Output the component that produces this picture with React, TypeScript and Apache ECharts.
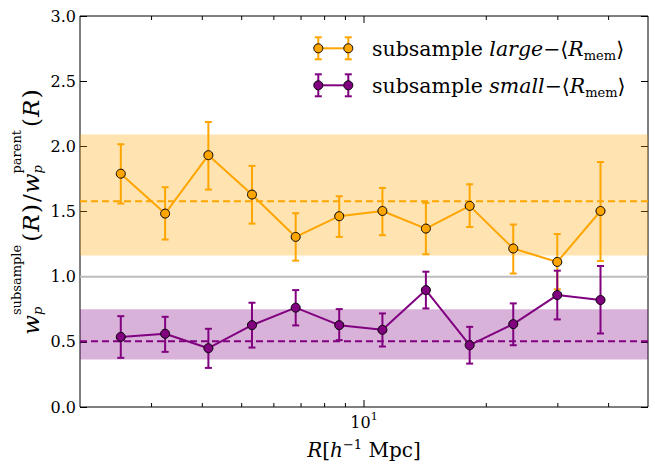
import React, { useEffect, useRef } from 'react';
import * as echarts from 'echarts';

const FONT = '"DejaVu Serif", "DejaVu Sans", serif';

// Data
const radiusBins = [2.52, 3.24, 4.14, 5.3, 6.79, 8.69, 11.1, 14.2, 18.2, 23.3, 29.9, 38.2];

const largeRatio = [1.79, 1.484, 1.932, 1.63, 1.305, 1.464, 1.504, 1.369, 1.543, 1.216, 1.113, 1.504];
const largeHigh = [2.016, 1.686, 2.187, 1.85, 1.487, 1.617, 1.681, 1.566, 1.709, 1.4, 1.327, 1.88];
const largeLow = [1.561, 1.285, 1.668, 1.407, 1.123, 1.305, 1.318, 1.172, 1.381, 1.024, 0.903, 1.12];

const smallRatio = [0.538, 0.562, 0.451, 0.628, 0.762, 0.628, 0.592, 0.897, 0.474, 0.636, 0.859, 0.821];
const smallHigh = [0.697, 0.692, 0.6, 0.8, 0.897, 0.751, 0.718, 1.038, 0.615, 0.795, 1.046, 1.082];
const smallLow = [0.377, 0.423, 0.3, 0.456, 0.626, 0.513, 0.464, 0.756, 0.333, 0.474, 0.672, 0.564];

const largeMean = [1.579];
const largeBand = [1.163, 2.09];
const smallMean = [0.504];
const smallBand = [0.365, 0.75];
const referenceLine = [1.0];

const xRange = [2, 50];
const yRange = [0, 3];
const yStep = 0.5;
const xMajorTicks = [10];
const xMinorTicks = [3, 4, 5, 6, 7, 8, 9, 20, 30, 40];

const largeColor = '#FFA500';
const smallColor = '#800080';
const largeBandColor = 'rgba(255,165,0,0.3)';
const smallBandColor = 'rgba(128,0,128,0.3)';

function errorBarSeries(name: string, lo: number[], hi: number[], color: string, z: number) {
  return {
    type: 'custom',
    name,
    z,
    silent: true,
    xAxisIndex: 0,
    yAxisIndex: 0,
    data: radiusBins.map((r, i) => [r, lo[i], hi[i]]),
    encode: { x: 0, y: [1, 2] },
    renderItem: (params: any, api: any) => {
      const x = api.value(0);
      const top = api.coord([x, api.value(2)]);
      const bot = api.coord([x, api.value(1)]);
      const c = 3.5;
      const style = { stroke: color, lineWidth: 2 };
      return {
        type: 'group',
        children: [
          { type: 'line', shape: { x1: top[0], y1: top[1], x2: bot[0], y2: bot[1] }, style },
          { type: 'line', shape: { x1: top[0] - c, y1: top[1], x2: top[0] + c, y2: top[1] }, style },
          { type: 'line', shape: { x1: bot[0] - c, y1: bot[1], x2: bot[0] + c, y2: bot[1] }, style },
        ],
      };
    },
  };
}

function lineSeries(name: string, vals: number[], color: string, z: number) {
  return {
    type: 'line',
    name,
    z,
    silent: true,
    xAxisIndex: 0,
    yAxisIndex: 0,
    data: radiusBins.map((r, i) => [r, vals[i]]),
    symbol: 'circle',
    symbolSize: 9,
    showSymbol: true,
    lineStyle: { color, width: 2 },
    itemStyle: { color, borderColor: '#000', borderWidth: 1 },
  };
}

function measureFactory() {
  const ctx = document.createElement('canvas').getContext('2d') as CanvasRenderingContext2D;
  return (text: string, font: string) => {
    ctx.font = font;
    return ctx.measureText(text).width;
  };
}

function buildYLabel() {
  const measure = measureFactory();
  const MAIN = 23;
  const SCR = 13;
  const fMain = `${MAIN}px ${FONT}`;
  const fMainI = `italic ${MAIN}px ${FONT}`;
  const fScr = `${SCR}px ${FONT}`;
  const fScrI = `italic ${SCR}px ${FONT}`;
  const mainDy = -0.3 * MAIN;
  const supDy = -18 - 0.3 * SCR;
  const subDy = 3 - 0.3 * SCR;
  type Piece = { text: string; font: string; u: number; dy: number };
  const pieces: Piece[] = [];
  let u = 0;
  const addMain = (t: string, f: string, gap = 1) => {
    pieces.push({ text: t, font: f, u, dy: mainDy });
    u += measure(t, f) + gap;
  };
  const addStack = (sup: string, sub: string) => {
    pieces.push({ text: sup, font: fScr, u, dy: supDy });
    pieces.push({ text: sub, font: fScrI, u, dy: subDy });
    u += Math.max(measure(sup, fScr), measure(sub, fScrI)) + 3;
  };
  addMain('w', fMainI, 0);
  addStack('subsample', 'p');
  addMain('(', fMain);
  addMain('R', fMainI, 1.5);
  addMain(')', fMain, 2);
  addMain('/', fMain, 1);
  addMain('w', fMainI, 0);
  addStack('parent', 'p');
  addMain('(', fMain);
  addMain('R', fMainI, 1.5);
  addMain(')', fMain, 0);
  const total = u;
  return {
    type: 'group',
    x: 38,
    y: 212,
    rotation: Math.PI / 2,
    silent: true,
    children: pieces.map((p) => ({
      type: 'text',
      x: p.u - total / 2,
      y: p.dy,
      style: {
        text: p.text,
        font: p.font,
        fill: '#000',
        align: 'left',
        verticalAlign: 'middle',
        textAlign: 'left',
        textVerticalAlign: 'middle',
      },
    })),
  };
}

function legendRow(y: number, color: string, word: string) {
  const cap = 3.5;
  const half = 11;
  const xs = [318.3, 348.3];
  const st = { stroke: color, lineWidth: 2 };
  const children: any[] = [
    { type: 'line', shape: { x1: xs[0], y1: y, x2: xs[1], y2: y }, style: st },
  ];
  xs.forEach((x) => {
    children.push({ type: 'line', shape: { x1: x, y1: y - half, x2: x, y2: y + half }, style: st });
    children.push({ type: 'line', shape: { x1: x - cap, y1: y - half, x2: x + cap, y2: y - half }, style: st });
    children.push({ type: 'line', shape: { x1: x - cap, y1: y + half, x2: x + cap, y2: y + half }, style: st });
  });
  xs.forEach((x) => {
    children.push({ type: 'circle', shape: { cx: x, cy: y, r: 4.5 }, style: { fill: color, stroke: '#000', lineWidth: 1 } });
  });
  children.push({
    type: 'text',
    x: 372,
    y: y + 1,
    style: {
      text: `{n|subsample }{i|${word}}{n|−⟨}{i|R}{s|mem}{n|⟩}`,
      verticalAlign: 'middle',
      textVerticalAlign: 'middle',
      align: 'left',
      textAlign: 'left',
      fill: '#000',
      rich: {
        n: { fontFamily: FONT, fontSize: 20.5, lineHeight: 26, color: '#000' },
        i: { fontFamily: FONT, fontSize: 20.5, fontStyle: 'italic', lineHeight: 26, color: '#000' },
        s: { fontFamily: FONT, fontSize: 13, lineHeight: 15, verticalAlign: 'bottom', color: '#000' },
      },
    },
  });
  return { type: 'group', silent: true, children };
}

export default function App() {
  const ref = useRef<HTMLDivElement>(null);
  useEffect(() => {
    if (!ref.current) return;
    const chart = echarts.init(ref.current, undefined, { renderer: 'svg' });
    const option: any = {
      animation: false,
      backgroundColor: '#fff',
      grid: { left: 80, right: 7, top: 16, bottom: 57, show: true, borderColor: '#000', borderWidth: 1, backgroundColor: 'transparent' },
      xAxis: [
        {
          type: 'log',
          logBase: 10,
          min: xRange[0],
          max: xRange[1],
          axisLine: { show: false },
          axisTick: { show: false },
          splitLine: { show: false },
          minorTick: { show: false },
          axisLabel: {
            margin: 4,
            showMinLabel: false,
            showMaxLabel: false,
            formatter: (v: number) => (Math.abs(v - 10) < 1e-6 ? '{b|10}{s|1}' : ''),
            rich: {
              b: { fontFamily: FONT, fontSize: 16, lineHeight: 22, color: '#000' },
              s: { fontFamily: FONT, fontSize: 11, lineHeight: 10, verticalAlign: 'top', color: '#000' },
            },
          },
        },
      ],
      yAxis: [
        {
          type: 'value',
          min: yRange[0],
          max: yRange[1],
          interval: yStep,
          axisLine: { show: false },
          splitLine: { show: false },
          axisTick: { show: true, inside: true, length: 7, lineStyle: { color: '#000', width: 1 } },
          axisLabel: {
            margin: 4,
            fontFamily: FONT,
            fontSize: 16,
            color: '#000',
            formatter: (v: number) => v.toFixed(1),
          },
        },
        {
          type: 'value',
          position: 'right',
          min: yRange[0],
          max: yRange[1],
          interval: yStep,
          axisLine: { show: false },
          splitLine: { show: false },
          axisTick: { show: true, inside: true, length: 7, lineStyle: { color: '#000', width: 1 } },
          axisLabel: { show: false },
        },
      ],
      series: [
        {
          type: 'custom',
          z: 1,
          silent: true,
          data: [
            [10, largeBand[0], largeBand[1], 0],
            [10, smallBand[0], smallBand[1], 1],
          ],
          encode: { x: 0, y: [1, 2] },
          renderItem: (params: any, api: any) => {
            const cs = params.coordSys;
            const yTop = api.coord([10, api.value(2)])[1];
            const yBot = api.coord([10, api.value(1)])[1];
            return {
              type: 'rect',
              shape: { x: cs.x, y: yTop, width: cs.width, height: yBot - yTop },
              style: { fill: api.value(3) === 0 ? largeBandColor : smallBandColor },
            };
          },
        },
        {
          type: 'custom',
          z: 2,
          silent: true,
          data: [
            [10, referenceLine[0], 2],
            [10, largeMean[0], 0],
            [10, smallMean[0], 1],
          ],
          encode: { x: 0, y: 1 },
          renderItem: (params: any, api: any) => {
            const cs = params.coordSys;
            const y = api.coord([10, api.value(1)])[1];
            const k = api.value(2);
            const style: any =
              k === 2
                ? { stroke: '#BDBDBD', lineWidth: 2 }
                : { stroke: k === 0 ? largeColor : smallColor, lineWidth: 2, lineDash: [7, 4] };
            return { type: 'line', shape: { x1: cs.x, y1: y, x2: cs.x + cs.width, y2: y }, style };
          },
        },
        {
          type: 'custom',
          z: 10,
          silent: true,
          data: [...xMajorTicks.map((v) => [v, 1]), ...xMinorTicks.map((v) => [v, 0])],
          encode: { x: 0, y: 1 },
          renderItem: (params: any, api: any) => {
            const cs = params.coordSys;
            const x = api.coord([api.value(0), 1])[0];
            const len = api.value(1) === 1 ? 7 : 4;
            const bottom = cs.y + cs.height;
            const top = cs.y;
            const style = { stroke: '#000', lineWidth: 1 };
            return {
              type: 'group',
              children: [
                { type: 'line', shape: { x1: x, y1: bottom, x2: x, y2: bottom - len }, style },
                { type: 'line', shape: { x1: x, y1: top, x2: x, y2: top + len }, style },
              ],
            };
          },
        },
        errorBarSeries('large-err', largeLow, largeHigh, largeColor, 3),
        lineSeries('large', largeRatio, largeColor, 4),
        errorBarSeries('small-err', smallLow, smallHigh, smallColor, 5),
        lineSeries('small', smallRatio, smallColor, 6),
      ],
      graphic: [
        buildYLabel(),
        {
          type: 'text',
          x: 364,
          y: 450,
          silent: true,
          style: {
            text: '{i|R}{n|[}{i|h}{s|−1}{n| Mpc]}',
            align: 'center',
            textAlign: 'center',
            verticalAlign: 'middle',
            textVerticalAlign: 'middle',
            fill: '#000',
            rich: {
              n: { fontFamily: FONT, fontSize: 20, lineHeight: 24, color: '#000' },
              i: { fontFamily: FONT, fontSize: 20, fontStyle: 'italic', lineHeight: 24, color: '#000' },
              s: { fontFamily: FONT, fontSize: 13, lineHeight: 13, verticalAlign: 'top', color: '#000' },
            },
          },
        },
        legendRow(48.3, largeColor, 'large'),
        legendRow(85.3, smallColor, 'small'),
      ],
    };
    chart.setOption(option);
    return () => chart.dispose();
  }, []);
  return <div ref={ref} style={{ position: 'fixed', left: 0, top: 0, width: 655, height: 464 }} />;
}
